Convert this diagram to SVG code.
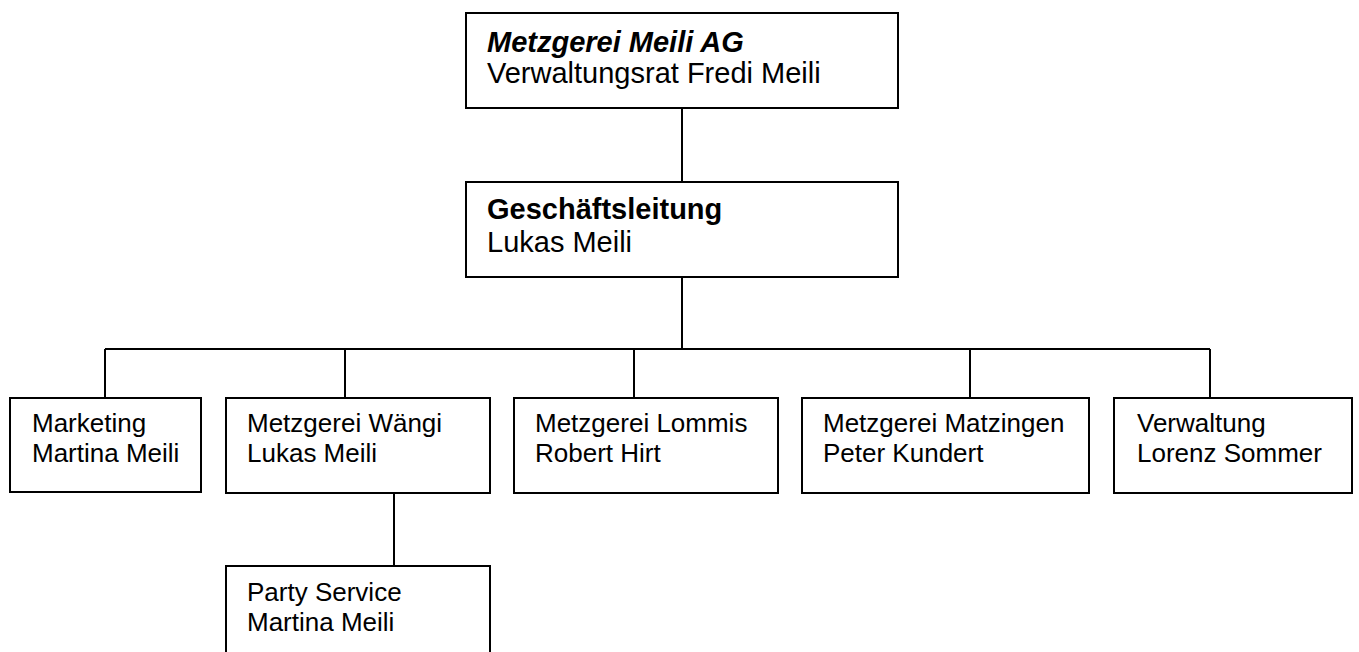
<svg xmlns="http://www.w3.org/2000/svg" width="1359" height="652" viewBox="0 0 1359 652">
<style>
.box{fill:#fff;stroke:#000;stroke-width:2}
.ln{stroke:#000;stroke-width:2;fill:none}
text{font-family:"Liberation Sans",Arial,sans-serif;font-size:26px;fill:#000}
.t{font-size:29px}
.b{font-weight:bold}
.bi{font-weight:bold;font-style:italic}
</style>
<rect width="1359" height="652" fill="#fff"/>
<g id="connectors">
<path class="ln" d="M682 108V181M682 277V349M105 349H1210M105 349V398M345 349V398M634 349V398M970 349V398M1210 349V398M394 493V566"/>
</g>
<g id="n-top"><rect class="box" x="466" y="13" width="432" height="95"/>
<text x="487" y="52" class="t bi">Metzgerei Meili AG</text><text x="487" y="83" class="t">Verwaltungsrat Fredi Meili</text></g>
<g id="n-gl"><rect class="box" x="466" y="182" width="432" height="95"/>
<text x="487" y="219" class="t b">Geschäftsleitung</text><text x="487" y="252" class="t">Lukas Meili</text></g>
<g id="n-marketing"><rect class="box" x="10" y="398" width="191" height="94"/>
<text x="32" y="432">Marketing</text><text x="32" y="462">Martina Meili</text></g>
<g id="n-waengi"><rect class="box" x="226" y="398" width="264" height="95"/>
<text x="247" y="432">Metzgerei Wängi</text><text x="247" y="462">Lukas Meili</text></g>
<g id="n-lommis"><rect class="box" x="514" y="398" width="264" height="95"/>
<text x="535" y="432">Metzgerei Lommis</text><text x="535" y="462">Robert Hirt</text></g>
<g id="n-matzingen"><rect class="box" x="802" y="398" width="287" height="95"/>
<text x="823" y="432">Metzgerei Matzingen</text><text x="823" y="462">Peter Kundert</text></g>
<g id="n-verwaltung"><rect class="box" x="1114" y="398" width="238" height="95"/>
<text x="1137" y="432">Verwaltung</text><text x="1137" y="462">Lorenz Sommer</text></g>
<g id="n-party"><rect class="box" x="226" y="566" width="264" height="100"/>
<text x="247" y="601">Party Service</text><text x="247" y="631">Martina Meili</text></g>
</svg>
